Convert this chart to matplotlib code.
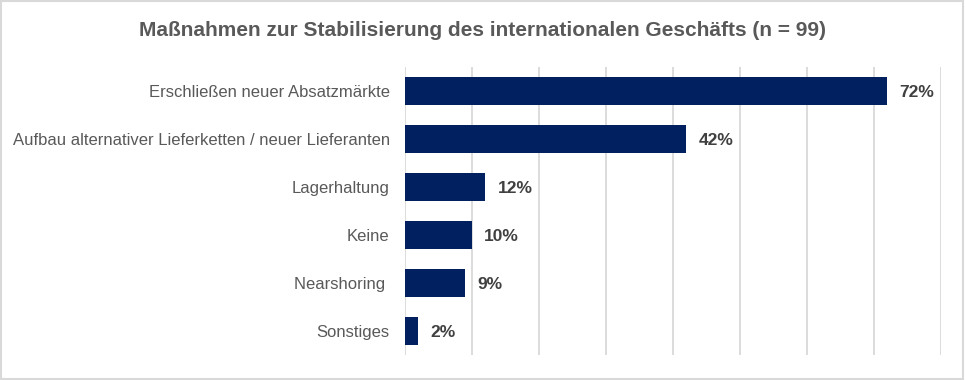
import matplotlib.pyplot as plt
from matplotlib.patches import Rectangle

# data
categories = ["Erschließen neuer Absatzmärkte",
              "Aufbau alternativer Lieferketten / neuer Lieferanten",
              "Lagerhaltung",
              "Keine",
              "Nearshoring ",
              "Sonstiges"]
values = [72, 42, 12, 10, 9, 2]

plt.rcParams['font.family'] = ['Liberation Sans', 'DejaVu Sans']

fig = plt.figure(figsize=(9.65, 3.8), dpi=100)
ax = fig.add_axes([405/965, 1-355/380, (941-405)/965, (355-67)/380])

pos = list(range(len(categories)))
ax.barh(pos, values, height=0.58, color="#002060", zorder=3)
for p, v in zip(pos, values):
    ax.text(v + 1.8, p + 0.03, f"{v}%", va="center", ha="left", fontsize=12.5,
            fontweight="bold", color="#404040")

ax.set_xlim(0, 80)
ax.set_ylim(len(categories) - 0.5, -0.5)
ax.set_xticks(range(0, 81, 10))
ax.xaxis.grid(True, color="#d9d9d9", linewidth=1.3, zorder=0)
ax.tick_params(axis="x", length=0, labelbottom=False)
ax.tick_params(axis="y", length=0, pad=11)
ax.set_yticks(pos)
ax.set_yticklabels(categories, fontsize=12, color="#595959")
for s in ax.spines.values():
    s.set_visible(False)

fig.text(0.5, 1-31/380, "Maßnahmen zur Stabilisierung des internationalen Geschäfts (n = 99)",
         ha="center", va="center", fontsize=15, fontweight="bold", color="#595959")

fig.patches.append(Rectangle((0.001, 0.002), 0.997, 0.995, transform=fig.transFigure,
                             fill=False, edgecolor="#d9d9d9", linewidth=1.5))

fig.savefig("out.png", dpi=100, facecolor="white")
